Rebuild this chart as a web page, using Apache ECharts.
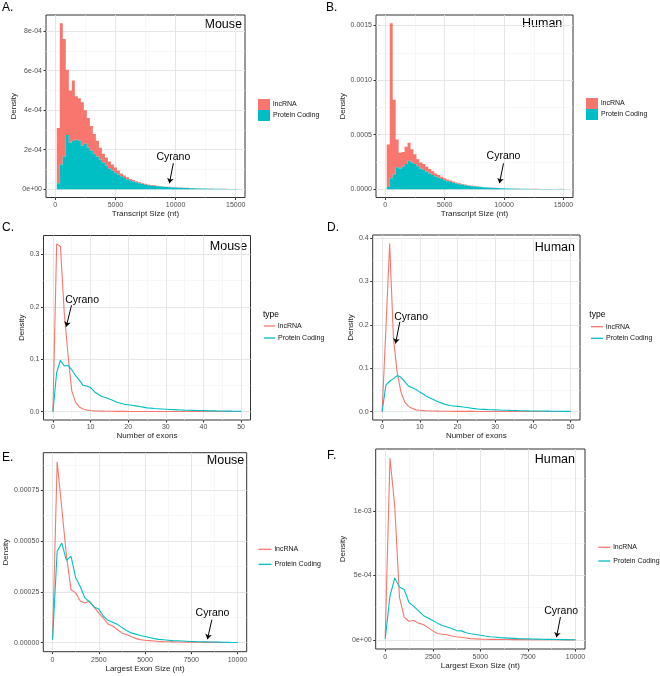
<!DOCTYPE html>
<html><head><meta charset="utf-8">
<script src="https://cdn.jsdelivr.net/npm/echarts@6/dist/echarts.min.js"></script>
<style>html,body{margin:0;padding:0;background:#fff}#c{width:660px;height:676px}</style>
</head><body><div id="c"></div>
<script>
// ---------------- DATA ----------------
// Histogram bin centres (transcript size, nt); each bin is 250 nt wide
const transcriptBins = [250,500,750,1000,1250,1500,1750,2000,2250,2500,2750,3000,3250,3500,3750,4000,4250,4500,4750,5000,5250,5500,5750,6000,6250,6500,6750,7000,7250,7500,7750,8000,8250,8500,8750,9000,9250,9500,9750,10000,10250,10500,10750,11000,11250,11500,11750,12000,12250,12500,12750,13000,13250,13500,13750,14000,14250,14500,14750,15000];
const transcriptBinWidth = 250;
// Panel A (mouse) stacked density: lncRNA part (top of stack) and protein coding (bottom)
const mouseTxLnc = [2.8e-4,7.15e-4,5.95e-4,3.3e-4,2.65e-4,3.05e-4,2.2e-4,2.15e-4,2.2e-4,1.7e-4,1.5e-4,1.25e-4,1.0e-4,8e-5,6e-5,4.5e-5,4e-5,3.5e-5,3e-5,2.5e-5,2e-5,1.5e-5,1.3e-5,1e-5,8e-6,7e-6,6e-6,5e-6,4.5e-6,4e-6,3.5e-6,3e-6,3e-6,2.5e-6,2.5e-6,2e-6,2e-6,2e-6,1.5e-6,1.5e-6,1.2e-6,1.2e-6,1e-6,1e-6,1e-6,8e-7,8e-7,8e-7,7e-7,7e-7,6e-7,6e-7,6e-7,5e-7,5e-7,5e-7,4e-7,4e-7,4e-7,3e-7];
const mouseTxPc = [3e-5,1.25e-4,1.65e-4,2.75e-4,2.35e-4,2.45e-4,2.5e-4,2.45e-4,2.2e-4,2.3e-4,2.1e-4,1.95e-4,1.8e-4,1.65e-4,1.5e-4,1.35e-4,1.2e-4,1.05e-4,9.5e-5,8.5e-5,7.5e-5,6.5e-5,5.7e-5,5e-5,4.4e-5,3.9e-5,3.4e-5,3e-5,2.6e-5,2.3e-5,2e-5,1.8e-5,1.65e-5,1.5e-5,1.35e-5,1.2e-5,1.1e-5,1e-5,9.2e-6,8.5e-6,7.8e-6,7e-6,6.4e-6,5.8e-6,5.2e-6,4.7e-6,4.2e-6,3.8e-6,3.4e-6,3e-6,2.7e-6,2.4e-6,2.1e-6,1.9e-6,1.7e-6,1.5e-6,1.3e-6,1.1e-6,9e-7,7e-7];
// Panel B (human)
const humanTxLnc = [3.9e-4,1.42e-3,6.85e-4,2.55e-4,1.45e-4,1.35e-4,1.6e-4,1.65e-4,1.2e-4,9e-5,6.5e-5,5.5e-5,5.5e-5,4.5e-5,4e-5,3.5e-5,2.8e-5,2.5e-5,2.2e-5,1.7e-5,1.6e-5,1.4e-5,1.2e-5,1e-5,9e-6,7e-6,6e-6,5e-6,5e-6,4e-6,4e-6,3e-6,2e-6,2e-6,1.5e-6,1.5e-6,1e-6,1e-6,1e-6,1e-6,8e-7,8e-7,8e-7,8e-7,8e-7,8e-7,8e-7,8e-7,8e-7,8e-7,8e-7,8e-7,8e-7,8e-7,8e-7,8e-7,8e-7,2e-6,2.5e-6,6e-7];
const humanTxPc = [2e-5,1.0e-4,1.35e-4,2.0e-4,1.9e-4,2.05e-4,2.3e-4,2.6e-4,2.45e-4,2.3e-4,2.1e-4,1.9e-4,1.75e-4,1.6e-4,1.45e-4,1.3e-4,1.17e-4,1.05e-4,9.3e-5,8.3e-5,7.4e-5,6.6e-5,5.8e-5,5.2e-5,4.6e-5,4.1e-5,3.6e-5,3.2e-5,2.8e-5,2.5e-5,2.2e-5,2e-5,1.8e-5,1.6e-5,1.45e-5,1.3e-5,1.15e-5,1e-5,9e-6,8e-6,7.2e-6,6.5e-6,5.8e-6,5.2e-6,4.7e-6,4.2e-6,3.8e-6,3.4e-6,3e-6,2.7e-6,2.4e-6,2.1e-6,1.9e-6,1.7e-6,1.5e-6,1.3e-6,1.2e-6,1e-6,9e-7,8e-7];

// Number of exons (panels C, D)
const exonCounts = [0,1,2,3,4,5,6,7,8,9,10,11,12,13,14,15,16,17,18,19,20,21,22,23,24,25,26,27,28,29,30,31,32,33,34,35,36,37,38,39,40,41,42,43,44,45,46,47,48,49,50];
const mouseExonLnc = [0,0.32,0.315,0.19,0.11,0.04,0.018,0.009,0.005,0.003,0.002,0.0015,0.0012,0.001,0.0008,0.0007,0.0006,0.0005,0.0004,0.0004,0.0003,0.0003,0.0003,0.0003,0.0002,0.0002,0.0002,0.0002,0.0002,0.0002,0.0002,0.0002,0.0001,0.0001,0.0001,0.0001,0.0001,0.0001,0.0001,0.0001,0.0001,0.0001,0.0001,0.0001,0.0001,0.0001,0.0001,0.0001,0.0001,0.0001,0.0001];
const mouseExonPc = [0,0.075,0.098,0.087,0.088,0.08,0.069,0.06,0.05,0.049,0.046,0.038,0.033,0.029,0.027,0.024,0.021,0.018,0.016,0.014,0.013,0.012,0.011,0.0098,0.0085,0.0072,0.0066,0.006,0.0055,0.005,0.0045,0.004,0.0037,0.0034,0.0031,0.0028,0.0026,0.0024,0.0022,0.002,0.0018,0.0016,0.0015,0.0014,0.0012,0.0011,0.001,0.0009,0.0008,0.0007,0.0005];
const humanExonLnc = [0,0.19,0.388,0.17,0.09,0.045,0.022,0.012,0.007,0.004,0.003,0.0022,0.0018,0.0015,0.0012,0.001,0.0009,0.0008,0.0007,0.0006,0.0005,0.0005,0.0004,0.0004,0.0004,0.0003,0.0003,0.0003,0.0003,0.0002,0.0002,0.0002,0.0002,0.0002,0.0002,0.0001,0.0001,0.0001,0.0001,0.0001,0.0001,0.0001,0.0001,0.0001,0.0001,0.0001,0.0001,0.0001,0.0001,0.0001,0.0001];
const humanExonPc = [0,0.061,0.07,0.076,0.083,0.079,0.069,0.059,0.055,0.051,0.045,0.04,0.034,0.03,0.026,0.022,0.019,0.016,0.014,0.013,0.012,0.011,0.01,0.009,0.0075,0.0062,0.0055,0.005,0.0045,0.0042,0.004,0.0036,0.0032,0.003,0.0027,0.0025,0.0022,0.002,0.0018,0.0016,0.0015,0.0013,0.0012,0.0011,0.001,0.0009,0.0008,0.0007,0.0006,0.0005,0.0004];

// Largest exon size (panels E, F)
const exonSizes = [0,250,500,750,1000,1250,1500,1750,2000,2250,2500,2750,3000,3250,3500,3750,4000,4250,4500,4750,5000,5250,5500,5750,6000,6250,6500,6750,7000,7250,7500,7750,8000,8250,8500,8750,9000,9250,9500,9750,10000];
const mouseSizeLnc = [1.5e-5,8.9e-4,6.6e-4,4.3e-4,2.6e-4,2.45e-4,2.05e-4,1.95e-4,2.05e-4,1.75e-4,1.45e-4,1.2e-4,9.2e-5,8.2e-5,6.5e-5,4.8e-5,4e-5,3e-5,2e-5,1.5e-5,1.2e-5,1e-5,8e-6,6e-6,5e-6,4.5e-6,4e-6,3.5e-6,3e-6,2.7e-6,2.4e-6,2.1e-6,1.8e-6,1.6e-6,1.4e-6,1.2e-6,1e-6,9e-7,8e-7,7e-7,6e-7];
const mouseSizePc = [1.5e-5,4.5e-4,4.9e-4,4.05e-4,4.25e-4,3.2e-4,2.75e-4,2.2e-4,2.0e-4,1.75e-4,1.65e-4,1.3e-4,1.1e-4,1.0e-4,9e-5,7.5e-5,6e-5,4.8e-5,4.2e-5,3.5e-5,3e-5,2.5e-5,2e-5,1.6e-5,1.4e-5,1.2e-5,1e-5,9e-6,8e-6,7e-6,6e-6,5e-6,4.5e-6,4e-6,3.5e-6,3e-6,2.5e-6,2e-6,1.5e-6,1e-6,8e-7];
const humanSizeLnc = [2e-5,1.41e-3,1.04e-3,3.3e-4,1.75e-4,1.45e-4,1.5e-4,1.3e-4,1.2e-4,9.5e-5,7e-5,5e-5,4.4e-5,4e-5,3e-5,2.4e-5,2e-5,1.5e-5,1e-5,8e-6,6e-6,5e-6,4.5e-6,4e-6,3.5e-6,3e-6,2.7e-6,2.4e-6,2.1e-6,1.8e-6,1.6e-6,1.4e-6,1.2e-6,1.1e-6,1e-6,9e-7,8e-7,7e-7,6e-7,5e-7,5e-7];
const humanSizePc = [8e-6,3.4e-4,4.8e-4,4.1e-4,3.9e-4,2.9e-4,2.6e-4,2.25e-4,1.9e-4,1.7e-4,1.5e-4,1.3e-4,1.12e-4,1.0e-4,8.8e-5,7.2e-5,7e-5,5.5e-5,4.8e-5,4.2e-5,3.6e-5,3e-5,2.5e-5,2.2e-5,1.8e-5,1.6e-5,1.4e-5,1.2e-5,1e-5,9e-6,8e-6,7e-6,6e-6,5e-6,4.5e-6,4e-6,3e-6,2.5e-6,2e-6,1.5e-6,1e-6];

// Tick values and labels
const txTicks = [0,5000,10000,15000];
const txTickLabels = ['0','5000','10000','15000'];
const txMinor = [2500,7500,12500];
const yTicksA = [0,2e-4,4e-4,6e-4,8e-4];
const yLabelsA = ['0e+00','2e-04','4e-04','6e-04','8e-04'];
const yMinorA = [1e-4,3e-4,5e-4,7e-4];
const yTicksB = [0,5e-4,1e-3,1.5e-3];
const yLabelsB = ['0.0000','0.0005','0.0010','0.0015'];
const yMinorB = [2.5e-4,7.5e-4,1.25e-3];
const exTicks = [0,10,20,30,40,50];
const exTickLabels = ['0','10','20','30','40','50'];
const exMinor = [5,15,25,35,45];
const yTicksC = [0,0.1,0.2,0.3];
const yLabelsC = ['0.0','0.1','0.2','0.3'];
const yMinorC = [0.05,0.15,0.25];
const yTicksD = [0,0.1,0.2,0.3,0.4];
const yLabelsD = ['0.0','0.1','0.2','0.3','0.4'];
const yMinorD = [0.05,0.15,0.25,0.35];
const szTicks = [0,2500,5000,7500,10000];
const szTickLabels = ['0','2500','5000','7500','10000'];
const szMinor = [1250,3750,6250,8750];
const yTicksE = [0,2.5e-4,5e-4,7.5e-4];
const yLabelsE = ['0.00000','0.00025','0.00050','0.00075'];
const yMinorE = [1.25e-4,3.75e-4,6.25e-4,8.75e-4];
const yTicksF = [0,5e-4,1e-3];
const yLabelsF = ['0e+00','5e-04','1e-03'];
const yMinorF = [2.5e-4,7.5e-4,1.25e-3];

// "Cyrano" annotation positions (data coordinates): label, arrow start, arrow end
const cyrano = {
  A: {label:[9817,1.65e-4], from:[9817,1.32e-4], to:[9485,0.3e-4]},
  B: {label:[9950,3.0e-4], from:[9950,2.37e-4], to:[9613,0.55e-4]},
  C: {label:[7.76,0.213], from:[4.94,0.203], to:[3.54,0.162]},
  D: {label:[7.68,0.219], from:[4.69,0.207], to:[3.55,0.157]},
  E: {label:[8649,1.46e-4], from:[8616,1.13e-4], to:[8378,0.17e-4]},
  F: {label:[9247,2.2e-4], from:[9210,1.77e-4], to:[9000,0.2e-4]}
};

// ---------------- CHART ----------------
const FONT = "'Liberation Sans', Arial, Helvetica, sans-serif";
const RED = '#F8766D', TEAL = '#00BFC4';
const zip = (xs, ys) => xs.map((x, i) => [x, ys[i]]);
function labelFmt(ticks, texts) {
  return function (v) {
    let b = 0;
    for (let i = 1; i < ticks.length; i++) if (Math.abs(ticks[i] - v) < Math.abs(ticks[b] - v)) b = i;
    return texts[b];
  };
}

const panels = [
  {grid:{left:46,top:15,width:199,height:182.5},
   x:{min:-770,max:15770,major:txTicks,labels:txTickLabels,minor:txMinor,name:'Transcript Size (nt)',gap:10,margin:4},
   y:{min:-0.42e-4,max:8.82e-4,major:yTicksA,labels:yLabelsA,minor:yMinorA,name:'Density',gap:28.5,margin:4}},
  {grid:{left:376,top:15,width:197,height:182.5},
   x:{min:-780,max:15800,major:txTicks,labels:txTickLabels,minor:txMinor,name:'Transcript Size (nt)',gap:10,margin:4},
   y:{min:-0.76e-4,max:15.96e-4,major:yTicksB,labels:yLabelsB,minor:yMinorB,name:'Density',gap:28.5,margin:4}},
  {grid:{left:43.5,top:235.5,width:207,height:184.5},
   x:{min:-2.5,max:52.5,major:exTicks,labels:exTickLabels,minor:exMinor,name:'Number of exons',gap:10,margin:4},
   y:{min:-0.016,max:0.336,major:yTicksC,labels:yLabelsC,minor:yMinorC,name:'Density',gap:17.5,margin:4}},
  {grid:{left:372.7,top:235,width:207.3,height:185},
   x:{min:-2.5,max:52.5,major:exTicks,labels:exTickLabels,minor:exMinor,name:'Number of exons',gap:10,margin:4},
   y:{min:-0.0194,max:0.4074,major:yTicksD,labels:yLabelsD,minor:yMinorD,name:'Density',gap:17,margin:4}},
  {grid:{left:43.3,top:452.7,width:203.4,height:199},
   x:{min:-500,max:10500,major:szTicks,labels:szTickLabels,minor:szMinor,name:'Largest Exon Size (nt)',gap:13,margin:5},
   y:{min:-0.445e-4,max:9.345e-4,major:yTicksE,labels:yLabelsE,minor:yMinorE,name:'Density',gap:34,margin:4}},
  {grid:{left:375.7,top:449,width:209.3,height:200},
   x:{min:-500,max:10500,major:szTicks,labels:szTickLabels,minor:szMinor,name:'Largest Exon Size (nt)',gap:12,margin:5},
   y:{min:-0.705e-4,max:14.8e-4,major:yTicksF,labels:yLabelsF,minor:yMinorF,name:'Density',gap:29,margin:4}}
];

const grids = [], xAxes = [], yAxes = [];
function axisPair(gi, c, isX) {
  const major = {
    type:'value', gridIndex:gi, min:c.min, max:c.max, position: isX ? 'bottom' : 'left',
    axisLine:{show:false, onZero:false},
    axisTick:{show:true, length:2.5, lineStyle:{color:'#333', width:1}, customValues:c.major},
    axisLabel:{show:true, customValues:c.major, formatter:labelFmt(c.major, c.labels), fontSize:7, color:'#4D4D4D', fontFamily:FONT, margin:c.margin},
    splitLine:{show:true, lineStyle:{color:'#E3E3E3', width:0.9}},
    name:c.name, nameLocation:'middle', nameGap:c.gap, nameRotate: isX ? 0 : 90,
    nameTextStyle:{fontSize:8, color:'#222', fontFamily:FONT}
  };
  const minor = {
    type:'value', gridIndex:gi, min:c.min, max:c.max, position: isX ? 'bottom' : 'left',
    axisLine:{show:false, onZero:false},
    axisTick:{show:false, customValues:c.minor},
    axisLabel:{show:false},
    splitLine:{show:true, lineStyle:{color:'#F1F1F1', width:0.6}}
  };
  return [major, minor];
}
panels.forEach((p, i) => {
  grids.push(Object.assign({show:true, borderColor:'#333', borderWidth:1, backgroundColor:'#fff'}, p.grid));
  xAxes.push(...axisPair(i, p.x, true));
  yAxes.push(...axisPair(i, p.y, false));
});

function cyranoMarks(c) {
  return {
    markLine:{silent:true, animation:false, symbol:['none','arrow'], symbolSize:5,
      lineStyle:{color:'#000', width:1, type:'solid'}, label:{show:false},
      data:[[{coord:c.from},{coord:c.to}]]},
    markPoint:{silent:true, animation:false, symbol:'circle', symbolSize:0,
      label:{show:true, position:'inside', formatter:'Cyrano', color:'#000', fontSize:10.5, fontFamily:FONT},
      data:[{coord:c.label}]}
  };
}
// Stacked histogram layer drawn as one stepped polygon (no seams between bins).
// Each bin j spans [centre - w/2, centre + w/2] from lower[j] to lower[j] + heights[j].
function histSeries(i, name, bins, lower, heights, color, marks) {
  const lo = bins.map((b, j) => lower ? lower[j] : 0);
  const hi = bins.map((b, j) => lo[j] + heights[j]);
  const half = transcriptBinWidth / 2;
  return Object.assign({type:'custom', name, xAxisIndex:2*i, yAxisIndex:2*i, silent:true, animation:false,
    data:bins.map((b, j) => [b, lo[j], hi[j]]), encode:{x:0, y:[1,2]}, itemStyle:{color},
    renderItem: function (params, api) {
      if (params.dataIndex !== 0) return null;
      const pts = [];
      for (let j = 0; j < bins.length; j++) {
        pts.push(api.coord([bins[j] - half, hi[j]]), api.coord([bins[j] + half, hi[j]]));
      }
      for (let j = bins.length - 1; j >= 0; j--) {
        pts.push(api.coord([bins[j] + half, lo[j]]), api.coord([bins[j] - half, lo[j]]));
      }
      return {type:'polygon', shape:{points:pts}, style:{fill:color, stroke:null, lineWidth:0}};
    }}, marks || {});
}
function lineSeries(i, name, xs, vals, color, marks) {
  return Object.assign({type:'line', name, xAxisIndex:2*i, yAxisIndex:2*i,
    data:zip(xs, vals), showSymbol:false, symbol:'none', silent:true, animation:false,
    lineStyle:{color, width:1.1}, itemStyle:{color}}, marks || {});
}

const series = [
  histSeries(0, 'lncRNA', transcriptBins, mouseTxPc, mouseTxLnc, RED),
  histSeries(0, 'Protein Coding', transcriptBins, null, mouseTxPc, TEAL, cyranoMarks(cyrano.A)),
  histSeries(1, 'lncRNA', transcriptBins, humanTxPc, humanTxLnc, RED),
  histSeries(1, 'Protein Coding', transcriptBins, null, humanTxPc, TEAL, cyranoMarks(cyrano.B)),
  lineSeries(2, 'lncRNA', exonCounts, mouseExonLnc, RED),
  lineSeries(2, 'Protein Coding', exonCounts, mouseExonPc, TEAL, cyranoMarks(cyrano.C)),
  lineSeries(3, 'lncRNA', exonCounts, humanExonLnc, RED),
  lineSeries(3, 'Protein Coding', exonCounts, humanExonPc, TEAL, cyranoMarks(cyrano.D)),
  lineSeries(4, 'lncRNA', exonSizes, mouseSizeLnc, RED),
  lineSeries(4, 'Protein Coding', exonSizes, mouseSizePc, TEAL, cyranoMarks(cyrano.E)),
  lineSeries(5, 'lncRNA', exonSizes, humanSizeLnc, RED),
  lineSeries(5, 'Protein Coding', exonSizes, humanSizePc, TEAL, cyranoMarks(cyrano.F))
];

const legendNames = ['lncRNA','Protein Coding'];
function legend(left, top, w, h, gap, lh) {
  return {left, top, orient:'vertical', icon:'rect', itemWidth:w, itemHeight:h, itemGap:gap, padding:0,
    selectedMode:false, data:legendNames,
    textStyle:{fontSize:7, color:'#111', fontFamily:FONT, lineHeight:lh, padding:[0,0,0,-2]}};
}
const legends = [
  legend(258, 99, 12, 11, 0, 11),
  legend(586, 98, 12, 11, 0, 11),
  legend(264, 321, 11, 1.3, 2, 10),
  legend(591, 321.7, 12, 1.3, 1.6, 10),
  legend(258.5, 544.3, 13, 1.3, 5, 10),
  legend(598.3, 542.3, 12, 1.3, 3.7, 10)
];

function txt(text, x, y, size, align) {
  return {type:'text', x, y, silent:true,
    style:{text, fill:'#000', fontSize:size, fontFamily:FONT, align:align || 'left', verticalAlign:'middle'}};
}
const graphics = [
  txt('A.', 2, 8, 12), txt('B.', 326, 8, 12), txt('C.', 2, 228, 12),
  txt('D.', 327, 228, 12), txt('E.', 2, 458, 12), txt('F.', 327, 456, 12),
  txt('Mouse', 242, 25, 12.5, 'right'), txt('Human', 562.3, 23.3, 12.5, 'right'),
  txt('Mouse', 247.3, 246.7, 12.5, 'right'), txt('Human', 575, 247.3, 12.5, 'right'),
  txt('Mouse', 244.3, 461, 12.5, 'right'), txt('Human', 575, 460, 12.5, 'right'),
  txt('type', 263, 314.3, 8.5), txt('type', 589.3, 314.3, 8.5)
];

const chart = echarts.init(document.getElementById('c'), null, {renderer:'canvas'});
chart.setOption({
  animation:false, backgroundColor:'#fff',
  grid:grids, xAxis:xAxes, yAxis:yAxes, series, legend:legends, graphic:graphics
});
</script></body></html>
